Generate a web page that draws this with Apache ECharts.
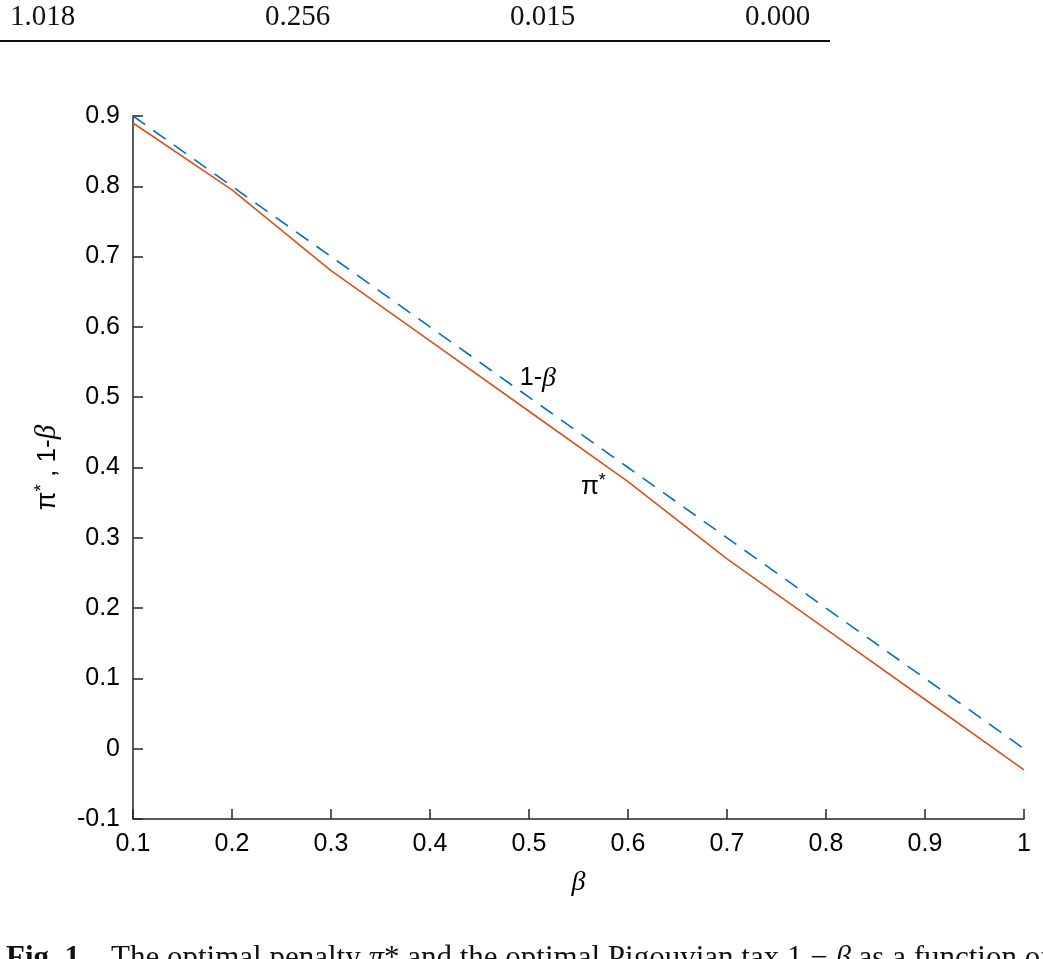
<!DOCTYPE html>
<html>
<head>
<meta charset="utf-8">
<script src="https://cdn.jsdelivr.net/npm/echarts@6/dist/echarts.min.js"></script>
<style>
  html, body { margin: 0; padding: 0; background: #fff; }
  #chart { width: 1043px; height: 959px; }
</style>
</head>
<body>
<div id="chart"></div>
<script>
const betas = [0.1, 0.2, 0.3, 0.4, 0.5, 0.6, 0.7, 0.8, 0.9, 1.0];
const penalty = [0.89, 0.795, 0.68, 0.58, 0.48, 0.38, 0.27, 0.17, 0.07, -0.03];
const tax = [0.9, 0.8, 0.7, 0.6, 0.5, 0.4, 0.3, 0.2, 0.1, 0.0];
const tableValues = ["1.018", "0.256", "0.015", "0.000"];

const chart = echarts.init(document.getElementById("chart"));

const axisColor = "#262626";
const sans = "Liberation Sans, Arial, sans-serif";
const serif = "Liberation Serif, DejaVu Serif, serif";
const fmt = v => String(+v.toFixed(1));

const option = {
  animation: false,
  grid: { left: 133, right: 19, top: 116, bottom: 140 },
  xAxis: {
    type: "value",
    min: 0.1,
    max: 1,
    interval: 0.1,
    name: "{b|β}",
    nameLocation: "middle",
    nameGap: 50,
    nameTextStyle: { rich: { b: { fontFamily: serif, fontStyle: "italic", fontSize: 28, color: "#000" } } },
    axisLine: { onZero: false, lineStyle: { color: axisColor, width: 1.5 } },
    axisTick: { inside: true, length: 10, lineStyle: { color: axisColor, width: 1.5 } },
    axisLabel: { formatter: fmt, fontFamily: sans, fontSize: 25, color: "#000", margin: 13 },
    splitLine: { show: false }
  },
  yAxis: {
    type: "value",
    min: -0.1,
    max: 0.9,
    interval: 0.1,
    name: "{p|π}{s|*}{n| , 1-}{b|β}",
    nameLocation: "middle",
    nameGap: 70,
    nameTextStyle: {
      rich: {
        p: { fontFamily: sans, fontSize: 27, color: "#000" },
        s: { fontFamily: sans, fontSize: 19, color: "#000", padding: [0, 0, 12, 0] },
        n: { fontFamily: sans, fontSize: 26, color: "#000" },
        b: { fontFamily: serif, fontStyle: "italic", fontSize: 29, color: "#000" }
      }
    },
    axisLine: { onZero: false, lineStyle: { color: axisColor, width: 1.5 } },
    axisTick: { inside: true, length: 10, lineStyle: { color: axisColor, width: 1.5 } },
    axisLabel: { formatter: fmt, fontFamily: sans, fontSize: 25, color: "#000", margin: 13 },
    splitLine: { show: false }
  },
  series: [
    {
      name: "1-beta",
      type: "line",
      data: betas.map((b, i) => [b, tax[i]]),
      symbol: "none",
      lineStyle: { color: "#0072BD", width: 1.6, type: [15, 10] },
      z: 3,
      markPoint: {
        symbol: "circle",
        symbolSize: 0,
        silent: true,
        label: {
          show: true,
          position: "inside",
          formatter: "{n|1-}{b|β}",
          rich: {
            n: { fontFamily: sans, fontSize: 25, color: "#000" },
            b: { fontFamily: serif, fontStyle: "italic", fontSize: 28, color: "#000" }
          }
        },
        data: [{ coord: [0.509, 0.527] }]
      }
    },
    {
      name: "pi*",
      type: "line",
      data: betas.map((b, i) => [b, penalty[i]]),
      symbol: "none",
      lineStyle: { color: "#D95319", width: 1.6 },
      z: 2,
      markPoint: {
        symbol: "circle",
        symbolSize: 0,
        silent: true,
        label: {
          show: true,
          position: "inside",
          formatter: "{p|π}{s|*}",
          rich: {
            p: { fontFamily: sans, fontSize: 26, color: "#000" },
            s: { fontFamily: sans, fontSize: 18, color: "#000", padding: [0, 0, 12, 0] }
          }
        },
        data: [{ coord: [0.565, 0.372] }]
      }
    }
  ],
  graphic: [
    ...tableValues.map((t, i) => ({
      type: "text",
      left: [10, 265, 510, 745][i],
      top: 3,
      style: { text: t, font: "29px " + serif, fill: "#111" }
    })),
    {
      type: "line",
      shape: { x1: 0, y1: 41, x2: 830, y2: 41 },
      style: { stroke: "#111", lineWidth: 2 }
    },
    {
      type: "text",
      left: 6,
      top: 943,
      style: {
        text: "{f|Fig. 1.}{t|   The optimal penalty }{i|π}{t|* and the optimal Pigouvian tax 1 − }{i|β}{t| as a function of}",
        rich: {
          f: { font: "bold 31px " + serif, fill: "#111" },
          t: { font: "31px " + serif, fill: "#111" },
          i: { font: "italic 31px " + serif, fill: "#111" }
        }
      }
    }
  ]
};

chart.setOption(option);
</script>
</body>
</html>
